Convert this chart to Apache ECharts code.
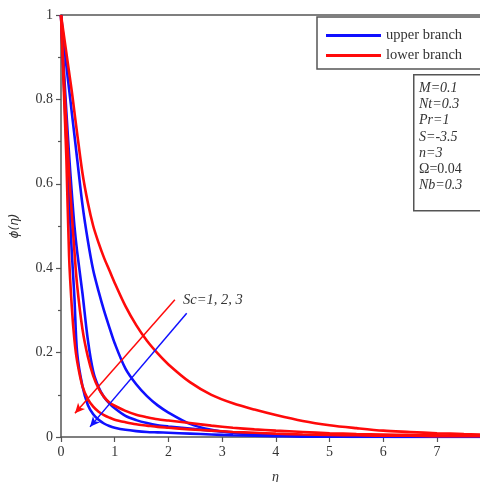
<!DOCTYPE html>
<html>
<head>
<meta charset="utf-8">
<script src="https://cdn.jsdelivr.net/npm/echarts@6/dist/echarts.min.js"></script>
<style>html,body{margin:0;padding:0;background:#fff}#c{width:480px;height:482px}</style>
</head>
<body>
<div id="c"></div>
<script>
// eta sample points
const xs = [0, 0.05, 0.1, 0.15, 0.2, 0.25, 0.3, 0.4, 0.5, 0.6, 0.7, 0.8, 0.9, 1.0, 1.2, 1.4, 1.6, 1.8, 2.0, 2.4, 2.8, 3.2, 3.6, 4.0, 4.5, 5, 5.5, 6, 6.5, 7, 7.5, 7.8];
// upper branch (blue), Sc = 1, 2, 3
const upperSc1 = [1, 0.94, 0.88, 0.825, 0.77, 0.715, 0.66, 0.55, 0.465, 0.395, 0.345, 0.3, 0.26, 0.222, 0.162, 0.125, 0.097, 0.075, 0.058, 0.031, 0.017, 0.01, 0.006, 0.004, 0.002, 0.001, 0.001, 0.0005, 0, 0, 0, 0];
const upperSc2 = [1, 0.88, 0.77, 0.67, 0.58, 0.5, 0.44, 0.34, 0.23, 0.155, 0.118, 0.095, 0.08, 0.068, 0.05, 0.04, 0.033, 0.028, 0.025, 0.02, 0.015, 0.011, 0.008, 0.006, 0.004, 0.003, 0.002, 0.0015, 0.001, 0.001, 0.001, 0.001];
const upperSc3 = [1, 0.85, 0.7, 0.57, 0.44, 0.33, 0.2, 0.12, 0.076, 0.054, 0.041, 0.032, 0.026, 0.022, 0.017, 0.014, 0.012, 0.011, 0.01, 0.008, 0.006, 0.004, 0.003, 0.002, 0.001, 0.001, 0, 0, 0, 0, 0, 0];
// lower branch (red), Sc = 1, 2, 3
const lowerSc1 = [1, 0.955, 0.91, 0.865, 0.82, 0.77, 0.72, 0.625, 0.555, 0.5, 0.46, 0.425, 0.395, 0.365, 0.31, 0.265, 0.228, 0.198, 0.172, 0.13, 0.1, 0.08, 0.065, 0.052, 0.038, 0.028, 0.021, 0.015, 0.012, 0.009, 0.007, 0.006];
const lowerSc2 = [1, 0.86, 0.74, 0.63, 0.53, 0.44, 0.36, 0.255, 0.19, 0.145, 0.115, 0.095, 0.082, 0.074, 0.062, 0.053, 0.047, 0.042, 0.039, 0.033, 0.027, 0.022, 0.018, 0.015, 0.012, 0.009, 0.007, 0.006, 0.005, 0.004, 0.003, 0.003];
const lowerSc3 = [1, 0.83, 0.66, 0.43, 0.31, 0.23, 0.18, 0.12, 0.09, 0.072, 0.06, 0.052, 0.046, 0.041, 0.035, 0.03, 0.027, 0.024, 0.022, 0.018, 0.015, 0.012, 0.01, 0.008, 0.006, 0.005, 0.004, 0.003, 0.003, 0.002, 0.002, 0.002];
const legendNames = ['upper branch', 'lower branch'];
const params = ['M=0.1', 'Nt=0.3', 'Pr=1', 'S=-3.5', 'n=3', 'Ω=0.04', 'Nb=0.3'];
const scLabel = 'Sc=1, 2, 3';
// arrows (data coords): [start, end]
const redArrow = [[2.12, 0.325], [0.26, 0.056]];
const blueArrow = [[2.34, 0.293], [0.54, 0.024]];

const BLUE = '#1010ff', RED = '#ff0a0a', AX = '#555';
const SERIF = '"Liberation Serif","Times New Roman",serif';
const toPts = arr => xs.map((x, i) => [x, arr[i]]);

function lineSeries(name, color, arr, extra) {
  return Object.assign({
    type: 'line', name, data: toPts(arr), showSymbol: false, symbol: 'none',
    smooth: 0.3, lineStyle: { color, width: 2.6 }, itemStyle: { color },
    animation: false, silent: true
  }, extra || {});
}

const arrowMark = (arr, color) => ({
  silent: true, animation: false, symbol: ['none', 'arrow'], symbolSize: [7, 10],
  label: { show: false },
  lineStyle: { color, width: 1.5, type: 'solid' },
  data: [[{ coord: arr[0] }, { coord: arr[1] }]]
});

const chart = echarts.init(document.getElementById('c'), null, { renderer: 'canvas' });
chart.setOption({
  backgroundColor: '#fff',
  animation: false,
  grid: { left: 61, right: 0, top: 15, bottom: 45, containLabel: false, outerBoundsMode: 'none' },
  xAxis: [{
    type: 'value', min: 0, max: 7.8, interval: 1,
    name: 'η', nameLocation: 'middle', nameGap: 33,
    nameTextStyle: { fontFamily: SERIF, fontStyle: 'italic', fontSize: 14, color: '#333', padding: [0, 0, 0, 10] },
    axisLine: { lineStyle: { color: AX, width: 1.5 } },
    axisTick: { show: true, inside: false, length: 5, lineStyle: { color: AX, width: 1.2 } },
    axisLabel: { fontFamily: SERIF, fontSize: 14, color: '#333', margin: 8, showMaxLabel: false },
    splitLine: { show: false }
  }, {
    type: 'value', min: 0, max: 7.8, position: 'top',
    axisLine: { show: true, lineStyle: { color: AX, width: 1.5 } },
    axisTick: { show: false }, axisLabel: { show: false }, splitLine: { show: false }
  }],
  yAxis: {
    type: 'value', min: 0, max: 1, interval: 0.2,
    name: 'ϕ(η)', nameLocation: 'middle', nameGap: 40, nameRotate: 90,
    nameTextStyle: { fontFamily: 'DejaVu Sans, sans-serif', fontStyle: 'italic', fontSize: 12, color: '#333' },
    axisLine: { show: true, lineStyle: { color: AX, width: 1.5 } },
    axisTick: { show: true, inside: false, length: 5, lineStyle: { color: AX, width: 1.2 } },
    minorTick: { show: true, splitNumber: 2, length: 3, lineStyle: { color: AX, width: 1.2 } },
    axisLabel: { fontFamily: SERIF, fontSize: 14, color: '#333', margin: 8 },
    splitLine: { show: false }
  },
  legend: {
    data: legendNames.map((n, i) => ({ name: n, itemStyle: { color: i ? RED : BLUE } })),
    orient: 'vertical', left: 317, top: 17,
    padding: [11, 24, 6, 9], itemGap: 5,
    itemWidth: 55, itemHeight: 3, icon: 'rect',
    borderColor: AX, borderWidth: 1.5, backgroundColor: '#fff',
    textStyle: { fontFamily: SERIF, fontSize: 14.5, color: '#333' },
    selectedMode: false
  },
  series: [
    lineSeries(legendNames[0], BLUE, upperSc1, { markLine: arrowMark(blueArrow, BLUE) }),
    lineSeries(legendNames[0], BLUE, upperSc2),
    lineSeries(legendNames[0], BLUE, upperSc3),
    lineSeries(legendNames[1], RED, lowerSc1, { markLine: arrowMark(redArrow, RED) }),
    lineSeries(legendNames[1], RED, lowerSc2),
    lineSeries(legendNames[1], RED, lowerSc3)
  ],
  graphic: [
    {
      type: 'rect', left: 413, top: 74, z: 100,
      shape: { width: 80, height: 136 },
      style: { fill: '#fff', stroke: AX, lineWidth: 1.5 }
    },
    {
      type: 'text', left: 419, top: 81, z: 101,
      style: {
        text: params.map(p => p.charAt(0) === 'Ω' ? '{u|' + p + '}' : '{i|' + p + '}').join('\n'),
        rich: {
          i: { fontFamily: SERIF, fontStyle: 'italic', fontSize: 14, lineHeight: 16.3, fill: '#333' },
          u: { fontFamily: SERIF, fontSize: 14, lineHeight: 16.3, fill: '#333' }
        }
      }
    },
    {
      type: 'text', left: 183, top: 293, z: 101,
      style: { text: scLabel, fontFamily: SERIF, fontStyle: 'italic', fontSize: 14.5, fill: '#333' }
    }
  ]
});
</script>
</body>
</html>
